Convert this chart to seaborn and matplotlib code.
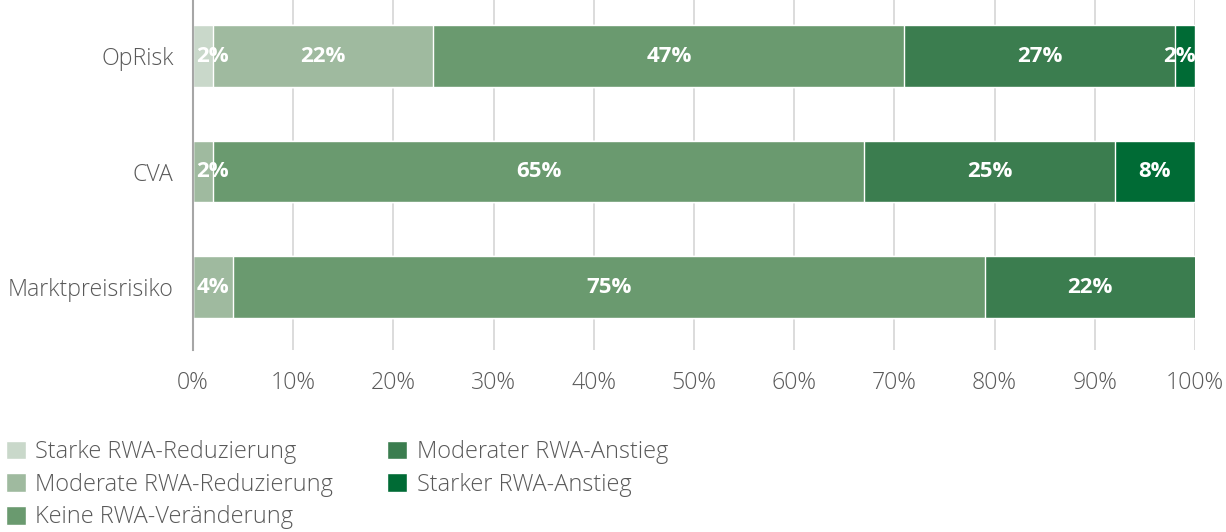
import numpy as np
import pandas as pd
import matplotlib.pyplot as plt
import seaborn as sns

# Daten
kategorien = ["OpRisk", "CVA", "Marktpreisrisiko"]
starke_reduzierung = [2, 0, 0]
moderate_reduzierung = [22, 2, 4]
keine_veraenderung = [47, 65, 75]
moderater_anstieg = [27, 25, 22]
starker_anstieg = [2, 8, 0]

serien_namen = ["Starke RWA-Reduzierung", "Moderate RWA-Reduzierung", "Keine RWA-Veränderung",
                "Moderater RWA-Anstieg", "Starker RWA-Anstieg"]
farben = ["#c9d8ca", "#9fba9f", "#6a9a6f", "#3b7d4f", "#006b35"]
xticks = [0, 10, 20, 30, 40, 50, 60, 70, 80, 90, 100]

sns.set_style("white")
plt.rcParams['font.family'] = ['Open Sans', 'DejaVu Sans']

serien = [starke_reduzierung, moderate_reduzierung, keine_veraenderung, moderater_anstieg, starker_anstieg]
df = pd.DataFrame(dict(zip(serien_namen, serien)), index=kategorien)
kum = df.cumsum(axis=1)

fig = plt.figure(figsize=(12.26, 5.32), dpi=100)
ax = fig.add_axes([193 / 1226, 1 - 350 / 532, (1195 - 193) / 1226, 350 / 532])

# gestapelte Balken: kumulierte Summen von hinten nach vorne zeichnen
for name, farbe in reversed(list(zip(serien_namen, farben))):
    sns.barplot(x=kum[name].values, y=kategorien, color=farbe, orient="h",
                width=0.53, ax=ax, saturation=1, label=name, zorder=3)

ax.set_xlim(0, 100)
ax.set_ylim(2.545, -0.485)

# Beschriftungen in den Segmenten
for i, kat in enumerate(kategorien):
    links = 0
    for name in serien_namen:
        wert = df.loc[kat, name]
        if wert > 0:
            rechts = min(links + wert, 100)
            mitte = (links + rechts) / 2
            ha = "center"
            if mitte < 1.8:
                mitte, ha = 0.3, "left"
            elif mitte > 98.2:
                mitte, ha = 100.1, "right"
            ax.text(mitte, i, f"{wert}%", ha=ha, va="center", color="white",
                    fontsize=16, fontweight="bold", zorder=5)
        links += wert

ax.set_xticks(xticks)
ax.set_xticklabels([f"{t}%" for t in xticks])
ax.grid(axis="x", color="#d9d9d9", linewidth=1.3, zorder=0)
ax.set_axisbelow(True)
ax.tick_params(axis="both", length=0, labelsize=16.7, labelcolor="#595959")
ax.tick_params(axis="x", pad=15)
ax.tick_params(axis="y", pad=14)
for lab in ax.get_xticklabels() + ax.get_yticklabels():
    lab.set_fontweight("light")
for s in ["top", "right", "bottom"]:
    ax.spines[s].set_visible(False)
ax.spines["left"].set_color("#a6a6a6")
ax.spines["left"].set_linewidth(1.5)
ax.spines["left"].set_zorder(6)
ax.set_xlabel("")
ax.set_ylabel("")

# Legende
handles, labels = ax.get_legend_handles_labels()
ordnung = {n: handles[labels.index(n)] for n in serien_namen}
if ax.get_legend():
    ax.get_legend().remove()
leg = fig.legend([ordnung[n] for n in serien_namen], serien_namen, ncol=2,
                 loc="upper left", bbox_to_anchor=(6 / 1226, 1 - 440 / 532),
                 frameon=False, fontsize=16.9, handlelength=0.85, handleheight=0.85,
                 handletextpad=0.4, columnspacing=2.3, labelspacing=0.37,
                 borderpad=0, borderaxespad=0)
for t in leg.get_texts():
    t.set_color("#595959")
    t.set_fontweight("light")

fig.savefig("out.png", dpi=100)
